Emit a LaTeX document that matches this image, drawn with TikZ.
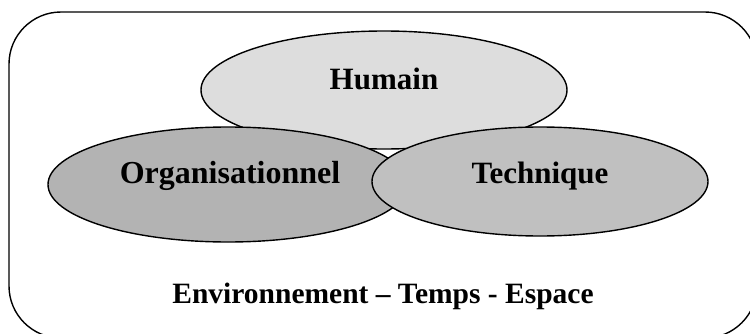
\documentclass[tikz,border=0pt]{standalone}
\usepackage{fontspec}
\setmainfont{Liberation Serif}
\usetikzlibrary{shapes.geometric}
\definecolor{humfill}{HTML}{DDDDDD}
\definecolor{orgfill}{HTML}{B3B3B3}
\definecolor{tecfill}{HTML}{C0C0C0}
\tikzset{
  blob/.style={ellipse, draw=black, line width=1.4pt, inner sep=0pt},
  word/.style={font=\fontsize{31}{36}\selectfont\bfseries, anchor=base, inner sep=0pt}
}
\begin{document}
\begin{tikzpicture}[x=1pt, y=1pt]
  \useasboundingbox (0,0) rectangle (750,333);
  \clip (0,0) rectangle (750,333);
  % outer frame, partly running off the page
  \draw[line width=1.4pt, rounded corners=52pt] (9,-5) rectangle (757,321);
  % the three overlapping spheres
  \node[blob, fill=humfill, minimum width=366pt, minimum height=118pt] (hum) at (384,243) {};
  \node[blob, fill=orgfill, minimum width=360pt, minimum height=115pt] (org) at (228,148.5) {};
  \node[blob, fill=tecfill, minimum width=336pt, minimum height=109pt] (tec) at (540,151.5) {};
  % labels
  \node[word] (humt) at (384,244) {Humain};
  \node[word, font=\fontsize{32}{36}\selectfont\bfseries] (orgt) at (230,150) {Organisationnel};
  \node[word] (tect) at (540,150) {Technique};
  \node[word, font=\fontsize{29.5}{34}\selectfont\bfseries] (env) at (383,30) {Environnement – Temps - Espace};
\end{tikzpicture}
\end{document}
